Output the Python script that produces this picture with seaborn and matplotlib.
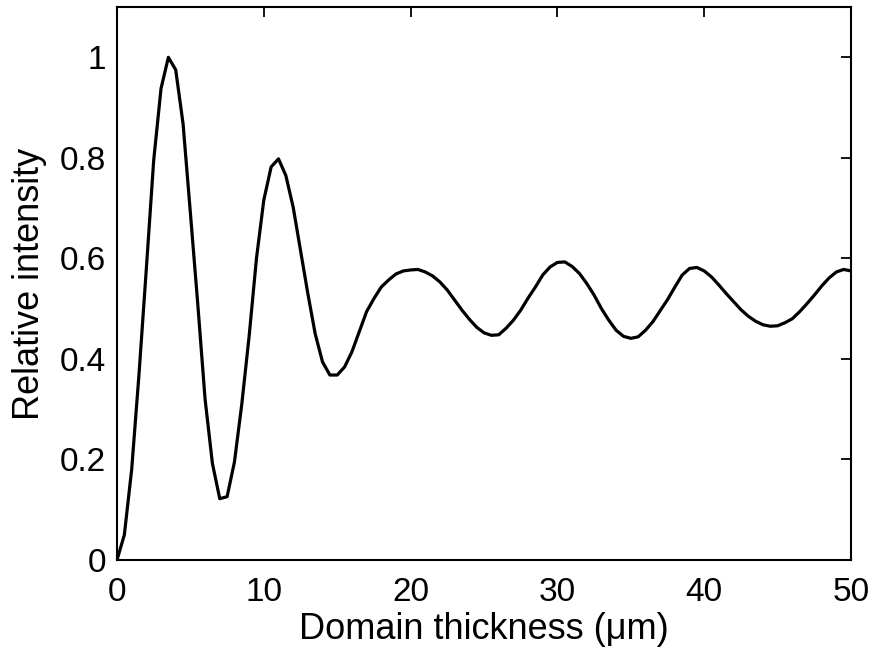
import numpy as np
import pandas as pd
import seaborn as sns
import matplotlib.pyplot as plt

# Espessura do domínio (µm), amostrada a cada 0,5 µm
espessura = np.arange(0, 50.5, 0.5)

# Intensidade relativa
intensidade = [
    0.000, 0.050, 0.180, 0.370, 0.580, 0.795, 0.938, 1.000, 0.975, 0.868,
    0.690, 0.510, 0.320, 0.192, 0.122, 0.126, 0.195, 0.310, 0.445, 0.600,
    0.716, 0.782, 0.798, 0.765, 0.702, 0.616, 0.530, 0.450, 0.394, 0.368,
    0.368, 0.384, 0.414, 0.454, 0.494, 0.520, 0.543, 0.557, 0.569, 0.575,
    0.577, 0.578, 0.573, 0.565, 0.553, 0.537, 0.517, 0.497, 0.479, 0.463,
    0.452, 0.447, 0.448, 0.461, 0.477, 0.497, 0.521, 0.543, 0.567, 0.583,
    0.592, 0.593, 0.584, 0.570, 0.550, 0.527, 0.500, 0.477, 0.457, 0.445,
    0.441, 0.444, 0.457, 0.474, 0.496, 0.518, 0.543, 0.567, 0.580, 0.582,
    0.575, 0.563, 0.547, 0.530, 0.514, 0.498, 0.485, 0.475, 0.468, 0.465,
    0.466, 0.472, 0.480, 0.494, 0.510, 0.527, 0.545, 0.561, 0.573, 0.578,
    0.575,
]

xticks = [0, 10, 20, 30, 40, 50]
yticks = [0, 0.2, 0.4, 0.6, 0.8, 1]
ytick_labels = ['0', '0.2', '0.4', '0.6', '0.8', '1']

df = pd.DataFrame({'espessura': espessura, 'intensidade': intensidade})

sns.set_theme(style='white')
plt.rcParams['font.family'] = ['Liberation Sans', 'DejaVu Sans']

fig = plt.figure(figsize=(8.77, 6.58), dpi=100)
ax = fig.add_axes([0.1334, 0.1489, 0.837, 0.8404])

sns.lineplot(data=df, x='espessura', y='intensidade', color='black', linewidth=2.3, ax=ax)

ax.set_xlim(0, 50)
ax.set_ylim(0, 1.1)
ax.set_xticks(xticks)
ax.set_yticks(yticks)
ax.set_yticklabels(ytick_labels)

for s in ax.spines.values():
    s.set_visible(True)
    s.set_color('black')
    s.set_linewidth(1.5)

ax.tick_params(direction='in', length=7, width=1.3, top=True, right=True,
               labelsize=24, colors='black')
ax.tick_params(axis='x', pad=12)
ax.tick_params(axis='y', pad=8)

ax.set_xlabel('Domain thickness (\u03bcm)', fontsize=26, color='black', labelpad=3)
ax.set_ylabel('Relative intensity', fontsize=26, color='black', labelpad=9)

plt.savefig('out.png', dpi=100)
plt.close()
